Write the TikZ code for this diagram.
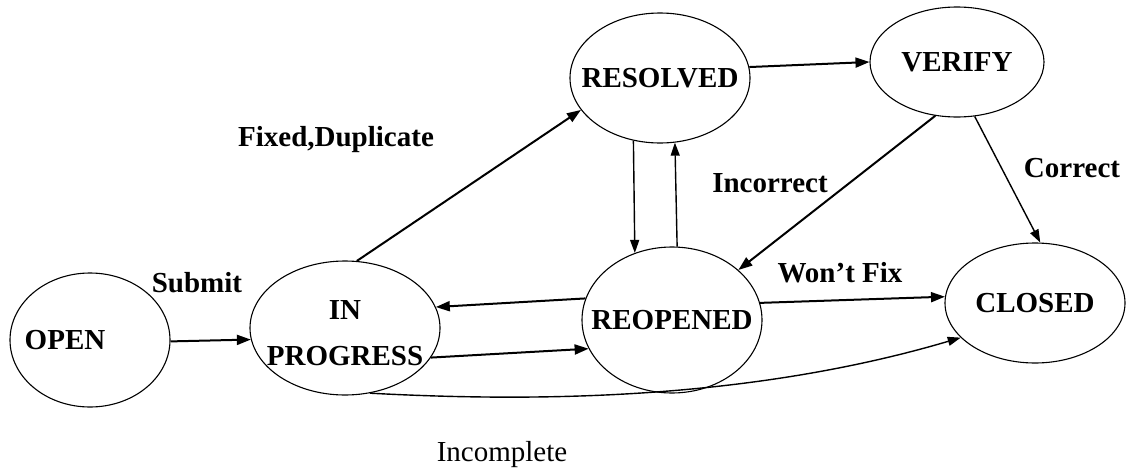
\documentclass[tikz,border=0pt]{standalone}
\usepackage{fontspec}
\setmainfont{Liberation Serif}
\usetikzlibrary{arrows.meta,shapes.geometric}
\newcommand\nowd[1]{\makebox[0pt]{#1}}

\begin{document}
\begin{tikzpicture}[x=1pt,y=-1pt,
   st/.style={draw,ellipse,inner sep=0,line width=1.1pt,font=\fontsize{29}{34}\selectfont\bfseries},
   tr/.style={-{Triangle[length=14pt,width=10pt]},line width=2pt},
   vt/.style={-{Triangle[length=13pt,width=9pt]},line width=1.4pt},
   lbl/.style={font=\fontsize{29}{34}\selectfont\bfseries,inner sep=0}]
  \path[use as bounding box,fill=white] (0,0) rectangle (1133,474);
  \node[st,minimum width=160pt,minimum height=134pt] (open) at (90,340) {\nowd{OPEN\hspace{50pt}}};
  \node[st,minimum width=190pt,minimum height=134pt] (prog) at (345,328) {\nowd{\raisebox{-14pt}[0pt][0pt]{\begin{tabular}{@{}c@{}}IN\\[12pt]PROGRESS\end{tabular}}}};
  \node[st,minimum width=180pt,minimum height=130pt] (res) at (660,78) {\nowd{RESOLVED}};
  \node[st,minimum width=174pt,minimum height=110pt] (ver) at (957,62) {\nowd{VERIFY}};
  \node[st,minimum width=180pt,minimum height=146pt] (reo) at (672,320) {\nowd{REOPENED}};
  \node[st,minimum width=180pt,minimum height=120pt] (clo) at (1035,303) {\nowd{CLOSED}};
  \node[lbl] (sub) at (197,283) {Submit};
  \node[lbl] (fd) at (336,140) {Fixed,Duplicate};
  \node[lbl] (inc) at (770,183) {Incorrect};
  \node[lbl] (cor) at (1072,168) {Correct};
  \node[lbl] (wf) at (840,273) {Won’t Fix};
  \node[lbl,font=\fontsize{29}{34}\selectfont] (icp) at (502,455) {Incomplete};
  \draw[tr] (open.-1) -- (prog.187);
  \draw[tr] (prog.80) -- (res.202);
  \draw[tr] (res.7) -- (ver.180);
  \draw[vt] (res.247) -- (reo.119);
  \draw[vt] (reo.86) -- (res.283);
  \draw[tr] (ver.248) -- (reo.37);
  \draw[vt] (ver.288) -- (clo.85);
  \draw[tr] (reo.11) -- (clo.176);
  \draw[tr] (reo.166) -- (prog.13);
  \draw[tr] (prog.341) -- (reo.199);
  \draw[vt] (prog.291) .. controls +(150,8) and +(-220,65) .. (clo.205);
\end{tikzpicture}
\end{document}
